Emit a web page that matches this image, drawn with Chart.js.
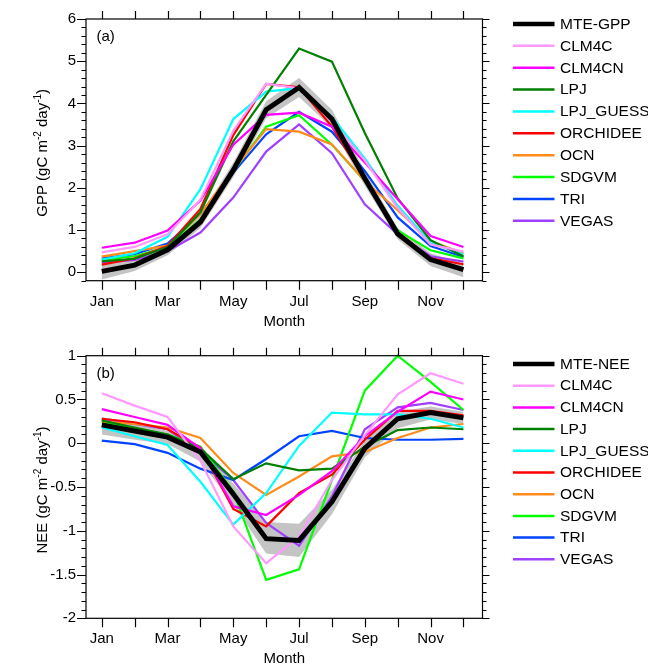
<!DOCTYPE html>
<html><head><meta charset="utf-8">
<script src="https://cdn.jsdelivr.net/npm/chart.js@4"></script>
<style>
html,body{margin:0;padding:0;background:#fff;overflow:hidden;width:648px;height:664px;}
#wa{position:absolute;left:0;top:0;width:648px;height:332px;}
#wb{position:absolute;left:0;top:332px;width:648px;height:345px;}
</style></head><body>
<div id="wa"><canvas id="ca" width="648" height="332"></canvas></div>
<div id="wb"><canvas id="cb" width="648" height="345"></canvas></div>
<script>
// ---------- data ----------
const months = ['Jan','Feb','Mar','Apr','May','Jun','Jul','Aug','Sep','Oct','Nov','Dec'];
const models = ['CLM4C','CLM4CN','LPJ','LPJ_GUESS','ORCHIDEE','OCN','SDGVM','TRI','VEGAS'];

// Panel (a) GPP
const mteGPP      = [0.02, 0.17, 0.53, 1.19, 2.42, 3.85, 4.38, 3.63, 2.22, 0.91, 0.30, 0.06];
const mteGPPUpper = [0.17, 0.30, 0.66, 1.33, 2.60, 4.05, 4.60, 3.85, 2.40, 1.05, 0.45, 0.20];
const mteGPPLower = [-0.17, 0.03, 0.40, 1.05, 2.25, 3.65, 4.15, 3.42, 2.05, 0.78, 0.15, -0.12];
const gppCLM4C    = [0.47, 0.60, 0.90, 1.72, 3.35, 4.47, 4.36, 3.58, 2.65, 1.52, 0.66, 0.49];
const gppCLM4CN   = [0.58, 0.70, 0.99, 1.70, 3.02, 3.73, 3.78, 3.45, 2.60, 1.73, 0.86, 0.60];
const gppLPJ      = [0.26, 0.32, 0.60, 1.42, 3.10, 4.20, 5.30, 4.99, 3.30, 1.75, 0.76, 0.38];
const gppLPJGUESS = [0.30, 0.45, 0.84, 1.97, 3.63, 4.28, 4.36, 3.68, 2.70, 1.58, 0.70, 0.42];
const gppORCHIDEE = [0.18, 0.33, 0.62, 1.50, 3.25, 4.46, 4.38, 3.45, 2.20, 0.95, 0.33, 0.19];
const gppOCN      = [0.37, 0.50, 0.63, 1.38, 2.43, 3.39, 3.33, 3.03, 2.16, 1.47, 0.74, 0.45];
const gppSDGVM    = [0.29, 0.38, 0.60, 1.25, 2.39, 3.45, 3.72, 3.02, 2.16, 0.99, 0.52, 0.33];
const gppTRI      = [0.33, 0.43, 0.68, 1.38, 2.36, 3.27, 3.80, 3.33, 2.40, 1.30, 0.62, 0.36];
const gppVEGAS    = [0.23, 0.29, 0.50, 0.94, 1.77, 2.86, 3.50, 2.82, 1.61, 0.90, 0.38, 0.25];

// Panel (b) NEE
const mteNEE      = [0.21, 0.14, 0.07, -0.10, -0.58, -1.09, -1.11, -0.67, -0.06, 0.28, 0.35, 0.29];
const mteNEEUpper = [0.30, 0.23, 0.14, -0.03, -0.46, -0.90, -0.92, -0.53, 0.03, 0.36, 0.42, 0.36];
const mteNEELower = [0.10, 0.04, -0.01, -0.21, -0.70, -1.26, -1.30, -0.81, -0.16, 0.17, 0.27, 0.22];
const neeCLM4C    = [0.57, 0.43, 0.30, -0.20, -0.95, -1.37, -1.07, -0.42, 0.09, 0.56, 0.80, 0.68];
const neeCLM4CN   = [0.39, 0.30, 0.21, -0.06, -0.72, -0.82, -0.59, -0.32, 0.08, 0.36, 0.59, 0.50];
const neeLPJ      = [0.26, 0.18, 0.10, -0.06, -0.41, -0.23, -0.31, -0.29, -0.04, 0.15, 0.18, 0.16];
const neeLPJGUESS = [0.18, 0.08, -0.02, -0.44, -0.93, -0.57, -0.03, 0.35, 0.33, 0.33, 0.28, 0.18];
const neeORCHIDEE = [0.28, 0.24, 0.16, -0.05, -0.75, -0.95, -0.57, -0.36, 0.04, 0.37, 0.37, 0.32];
const neeOCN      = [0.25, 0.22, 0.18, 0.06, -0.34, -0.59, -0.38, -0.15, -0.10, 0.06, 0.18, 0.22];
const neeSDGVM    = [0.24, 0.17, 0.10, -0.04, -0.55, -1.56, -1.44, -0.42, 0.60, 1.00, 0.70, 0.38];
const neeTRI      = [0.03, -0.01, -0.11, -0.29, -0.42, -0.18, 0.08, 0.14, 0.06, 0.04, 0.04, 0.05];
const neeVEGAS    = [0.27, 0.22, 0.16, -0.09, -0.42, -0.91, -1.17, -0.61, 0.16, 0.41, 0.46, 0.38];

const gppTicks = [0, 1, 2, 3, 4, 5, 6];
const neeTicks = [-2, -1.5, -1, -0.5, 0, 0.5, 1];

// ---------- styles ----------
const modelColors = ['#ff99ff','#ff00ff','#008000','#00ffff','#ff0000','#ff8c1a','#00ff00','#0044ff','#a040ff'];
const FONT = 'Liberation Sans, Arial, sans-serif';

function pts(arr){ return arr.map((v,i)=>({x:i,y:v})); }

const decor = {
  id:'decor',
  afterDatasetsDraw(chart, args, o){
    const ctx = chart.ctx, a = chart.chartArea, xs = chart.scales.x, ys = chart.scales.y;
    ctx.save();
    ctx.strokeStyle = '#000'; ctx.lineWidth = 1.2; ctx.lineCap='butt';
    ctx.strokeRect(a.left, a.top, a.right-a.left, a.bottom-a.top);
    ctx.beginPath();
    // y ticks
    const n = Math.round((ys.max-ys.min)/o.minor);
    for(let k=0;k<=n;k++){
      const v = ys.min + k*o.minor;
      const p = Math.round(ys.getPixelForValue(v))+0.5;
      const maj = Math.abs(v/o.major - Math.round(v/o.major)) < 1e-6;
      ctx.moveTo(a.left, p); ctx.lineTo(a.left-(maj?9:4.5), p);
      ctx.moveTo(a.right, p); ctx.lineTo(a.right+(maj?7:4), p);
    }
    // x ticks
    months.forEach((m,i)=>{
      const p = Math.round(xs.getPixelForValue(i))+0.5;
      ctx.moveTo(p, a.bottom); ctx.lineTo(p, a.bottom+9);
      ctx.moveTo(p, a.top); ctx.lineTo(p, a.top-8);
    });
    ctx.stroke();
    // panel label
    ctx.fillStyle='#000';
    ctx.font = '15px '+FONT; ctx.textBaseline='middle'; ctx.textAlign='left';
    ctx.fillText(o.panel, a.left+10.5, a.top+18);
    // y title with superscripts
    const segs = o.ytitle;
    const cx = 46.5, cy = (a.top+a.bottom)/2 + 3;
    ctx.translate(cx, cy); ctx.rotate(-Math.PI/2);
    ctx.textBaseline='alphabetic';
    let tot=0;
    segs.forEach(s=>{ ctx.font = (s.sup?'10px ':'15px ')+FONT; tot += ctx.measureText(s.t).width; });
    let x0 = -tot/2;
    segs.forEach(s=>{ ctx.font = (s.sup?'10px ':'15px ')+FONT; ctx.fillText(s.t, x0, s.sup?-6:0); x0 += ctx.measureText(s.t).width; });
    ctx.setTransform(1,0,0,1,0,0);
    // legend
    ctx.font = '15.5px '+FONT; ctx.textBaseline='middle'; ctx.textAlign='left';
    const ds = chart.data.datasets.filter(d=>d.inLegend);
    ds.forEach((d,i)=>{
      const y = o.legY + i*o.legStep;
      ctx.strokeStyle = d.borderColor; ctx.lineWidth = d.legendWidth;
      ctx.beginPath(); ctx.moveTo(513, y); ctx.lineTo(554.5, y); ctx.stroke();
      ctx.fillStyle='#000';
      ctx.fillText(d.label, 560, y+0.5);
    });
    ctx.restore();
  }
};

function build(canvasId, cfg){
  const datasets = [];
  datasets.push({label:'lower', data:pts(cfg.lower), borderWidth:0, pointRadius:0, fill:false, order:100, borderColor:'rgba(0,0,0,0)'});
  datasets.push({label:'upper', data:pts(cfg.upper), borderWidth:0, pointRadius:0, fill:'-1', backgroundColor:'#c4c4c4', order:99, borderColor:'rgba(0,0,0,0)'});
  datasets.push({label:cfg.mteLabel, data:pts(cfg.mte), borderColor:'#000', borderWidth:5, pointRadius:0, order:0, inLegend:true, legendWidth:4.5, clip:4});
  cfg.series.forEach((s,i)=>{
    datasets.push({label:models[i], data:pts(s), borderColor:modelColors[i], borderWidth:2.2, pointRadius:0, order:1+i, inLegend:true, legendWidth:2.5, clip:4});
  });
  return new Chart(document.getElementById(canvasId), {
    type:'line',
    data:{datasets},
    options:{
      responsive:false, animation:false, devicePixelRatio:1,
      layout:{padding:{left:0, right:cfg.padRight, top:cfg.padTop, bottom:0}},
      elements:{line:{tension:0, borderJoinStyle:'miter', borderCapStyle:'butt'}},
      plugins:{legend:{display:false}, tooltip:{enabled:false},
        decor:{panel:cfg.panel, ytitle:cfg.ytitle, major:cfg.major, minor:cfg.minor, legY:cfg.legY, legStep:cfg.legStep}},
      scales:{
        x:{type:'linear', min:-0.48, max:11.58,
          afterBuildTicks:(s)=>{ s.ticks = months.map((m,i)=>({value:i})); },
          afterFit:(s)=>{ s.height = cfg.xHeight; },
          ticks:{autoSkip:false, maxRotation:0, padding:12, color:'#000', font:{family:FONT, size:15},
            callback:(v)=> (v%2===0 ? months[v] : '')},
          grid:{display:false, drawTicks:false}, border:{display:false},
          title:{display:true, text:'Month', color:'#000', font:{family:FONT, size:15}, padding:{top:0,bottom:cfg.titlePad}}
        },
        y:{type:'linear', min:cfg.ymin, max:cfg.ymax,
          afterBuildTicks:(s)=>{ s.ticks = cfg.yticks.map(v=>({value:v})); },
          afterFit:(s)=>{ s.width = 86; },
          ticks:{padding:10, color:'#000', font:{family:FONT, size:15}, callback:(v)=>String(v)},
          grid:{display:false, drawTicks:false}, border:{display:false}
        }
      }
    },
    plugins:[decor]
  });
}

build('ca', {
  mte:mteGPP, upper:mteGPPUpper, lower:mteGPPLower, mteLabel:'MTE-GPP',
  series:[gppCLM4C,gppCLM4CN,gppLPJ,gppLPJGUESS,gppORCHIDEE,gppOCN,gppSDGVM,gppTRI,gppVEGAS],
  ymin:-0.2, ymax:6, yticks:gppTicks, major:1, minor:0.2,
  padTop:16, padRight:165.5, xHeight:51.3, titlePad:1,
  panel:'(a)', legY:24, legStep:21.86,
  ytitle:[{t:'GPP (gC m'},{t:'-2',sup:true},{t:' day'},{t:'-1',sup:true},{t:')'}]
});
build('cb', {
  mte:mteNEE, upper:mteNEEUpper, lower:mteNEELower, mteLabel:'MTE-NEE',
  series:[neeCLM4C,neeCLM4CN,neeLPJ,neeLPJGUESS,neeORCHIDEE,neeOCN,neeSDGVM,neeTRI,neeVEGAS],
  ymin:-2, ymax:1, yticks:neeTicks, major:0.5, minor:0.1,
  padTop:23.7, padRight:165.5, xHeight:58.7, titlePad:9,
  panel:'(b)', legY:32, legStep:21.7,
  ytitle:[{t:'NEE (gC m'},{t:'-2',sup:true},{t:' day'},{t:'-1',sup:true},{t:')'}]
});
</script>
</body></html>
